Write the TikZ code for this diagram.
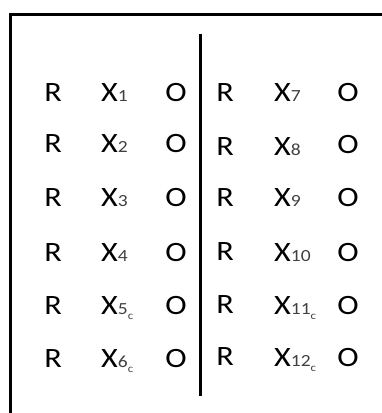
\documentclass[tikz,border=0pt]{standalone}
\usepackage{fontspec}
\usepackage{graphicx}
\setmainfont{Carlito}
\newcommand{\mainsz}{\fontsize{28}{28}\selectfont}
\newcommand{\subsz}{\fontsize{17}{17}\selectfont}
\newcommand{\subsubsz}{\fontsize{11}{11}\selectfont}
\newcommand{\wide}[1]{\scalebox{1.15}[1]{#1}}
\newcommand{\Xsub}[1]{\wide{X\raisebox{-0.5pt}{\subsz\color{black!75}#1}}}
\newcommand{\Xsubc}[1]{\wide{X\raisebox{-0.5pt}{\subsz\color{black!75}#1\raisebox{-4.5pt}{\subsubsz c}}}}
\begin{document}
\begin{tikzpicture}[x=1pt,y=-1pt,
  lbl/.style={inner sep=0pt,font=\mainsz,anchor=base},
  xlbl/.style={inner sep=0pt,font=\mainsz,anchor=base west},
  frame/.style={line width=3pt,draw=black}]
\useasboundingbox (0,0) rectangle (382,413);
\clip (0,0) rectangle (382,413);
\draw[frame] (10,14) rectangle (420,450);
\draw[frame] (200,34) -- (200,396);
% left column
\node[lbl] (r1) at (53,101) {\wide{R}};
\node[xlbl] (x1) at (101,101) {\Xsub{1}};
\node[lbl] (o1) at (176,101) {\wide{O}};
\node[lbl] (r2) at (53,152) {\wide{R}};
\node[xlbl] (x2) at (101,152) {\Xsub{2}};
\node[lbl] (o2) at (176,152) {\wide{O}};
\node[lbl] (r3) at (53,206) {\wide{R}};
\node[xlbl] (x3) at (101,206) {\Xsub{3}};
\node[lbl] (o3) at (176,206) {\wide{O}};
\node[lbl] (r4) at (53,261) {\wide{R}};
\node[xlbl] (x4) at (101,261) {\Xsub{4}};
\node[lbl] (o4) at (176,261) {\wide{O}};
\node[lbl] (r5) at (53,314) {\wide{R}};
\node[xlbl] (x5) at (101,314) {\Xsubc{5}};
\node[lbl] (o5) at (176,314) {\wide{O}};
\node[lbl] (r6) at (53,367) {\wide{R}};
\node[xlbl] (x6) at (101,367) {\Xsubc{6}};
\node[lbl] (o6) at (176,367) {\wide{O}};
% right column
\node[lbl] (r7) at (225,101) {\wide{R}};
\node[xlbl] (x7) at (274,101) {\Xsub{7}};
\node[lbl] (o7) at (348,101) {\wide{O}};
\node[lbl] (r8) at (225,155) {\wide{R}};
\node[xlbl] (x8) at (274,155) {\Xsub{8}};
\node[lbl] (o8) at (348,153) {\wide{O}};
\node[lbl] (r9) at (225,206) {\wide{R}};
\node[xlbl] (x9) at (274,206) {\Xsub{9}};
\node[lbl] (o9) at (348,206) {\wide{O}};
\node[lbl] (r10) at (225,260) {\wide{R}};
\node[xlbl] (x10) at (274,261) {\Xsub{10}};
\node[lbl] (o10) at (348,261) {\wide{O}};
\node[lbl] (r11) at (225,313) {\wide{R}};
\node[xlbl] (x11) at (274,314) {\Xsubc{11}};
\node[lbl] (o11) at (348,314) {\wide{O}};
\node[lbl] (r12) at (225,365) {\wide{R}};
\node[xlbl] (x12) at (274,366) {\Xsubc{12}};
\node[lbl] (o12) at (348,366) {\wide{O}};
\end{tikzpicture}
\end{document}
